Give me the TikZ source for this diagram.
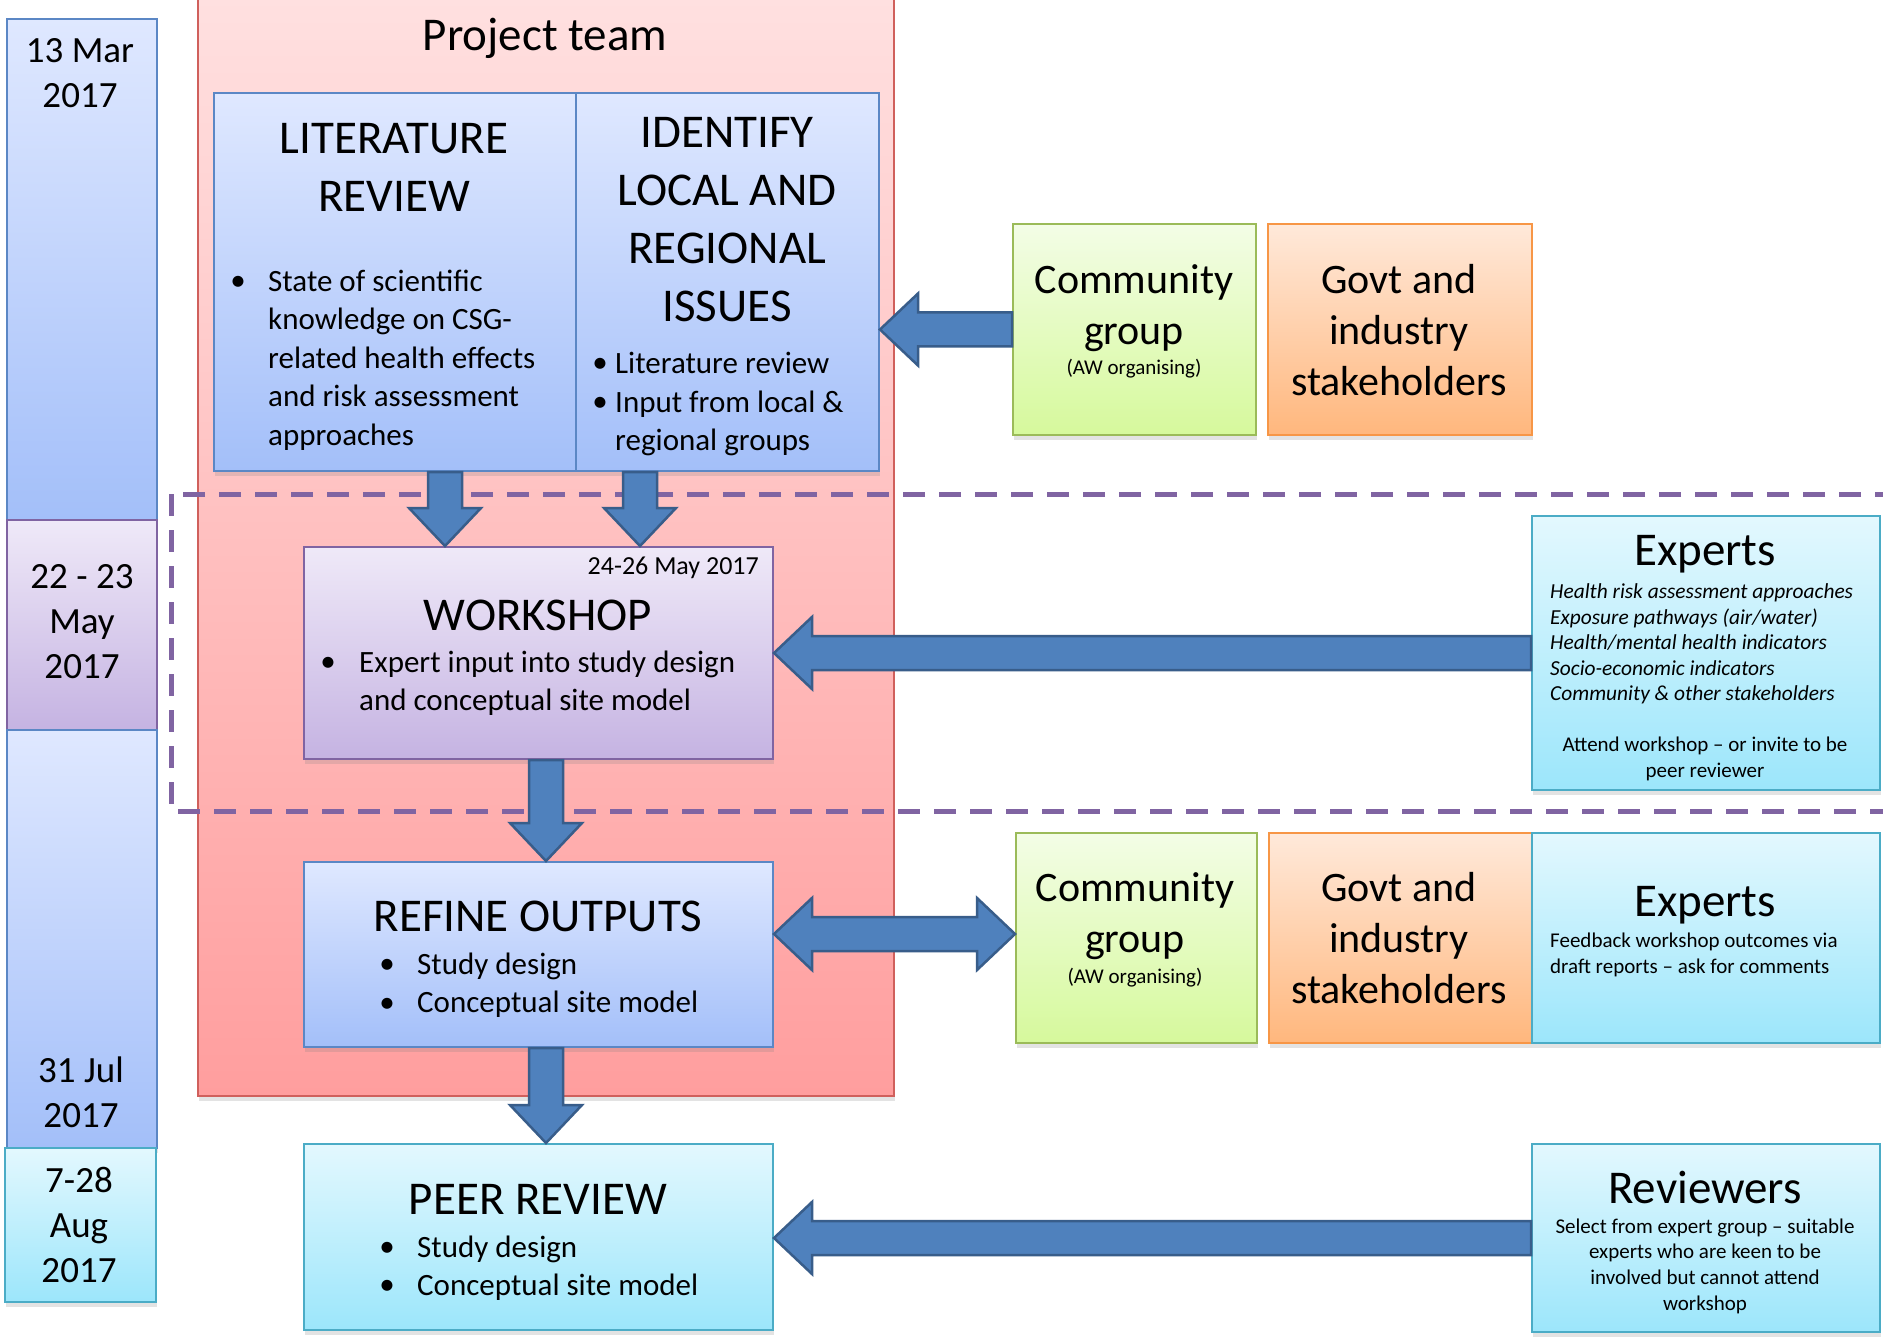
\documentclass[tikz,border=0pt]{standalone}
\usepackage{fontspec}
\setmainfont{Carlito}
\usetikzlibrary{calc,shadows}
\definecolor{blueT}{HTML}{DFE8FF}
\definecolor{blueB}{HTML}{A3BFF9}
\definecolor{blueD}{HTML}{5B87C5}
\definecolor{redT}{HTML}{FFE0E0}
\definecolor{redB}{HTML}{FF9E9E}
\definecolor{redD}{HTML}{D0605C}
\definecolor{purT}{HTML}{EFE9F8}
\definecolor{purB}{HTML}{C5B3E2}
\definecolor{purD}{HTML}{8064A2}
\definecolor{cyaT}{HTML}{E3F8FE}
\definecolor{cyaB}{HTML}{9CE6FB}
\definecolor{cyaD}{HTML}{4BACC6}
\definecolor{grnT}{HTML}{F3FDE6}
\definecolor{grnB}{HTML}{D6F99C}
\definecolor{grnD}{HTML}{9BBB59}
\definecolor{orgT}{HTML}{FFE9DA}
\definecolor{orgB}{HTML}{FFB77D}
\definecolor{orgD}{HTML}{F79646}
\definecolor{arrF}{HTML}{4F81BD}
\definecolor{arrD}{HTML}{385D8A}
\definecolor{dashC}{HTML}{8064A2}
\newcommand\fHead{\fontsize{47}{58}\selectfont}
\newcommand\fBody{\fontsize{31}{38.5}\selectfont}
\newcommand\fDate{\fontsize{37}{45}\selectfont}
\newcommand\fComm{\fontsize{42}{51}\selectfont}
\newcommand\fSmall{\fontsize{21}{25.6}\selectfont}
\newcommand\fItal{\fontsize{21.4}{25.6}\selectfont}
\newcommand\fWdate{\fontsize{26}{31}\selectfont}
\tikzset{
  box/.style={line width=2pt, anchor=north west, inner sep=0pt,
    drop shadow={shadow xshift=1pt, shadow yshift=-5pt, opacity=0.22}},
  bluebox/.style={box, draw=blueD, top color=blueT, bottom color=blueB},
  redbox/.style={box, line width=1.5pt, draw=redD, top color=redT, bottom color=redB},
  purbox/.style={box, draw=purD, top color=purT, bottom color=purB},
  cyabox/.style={box, draw=cyaD, top color=cyaT, bottom color=cyaB},
  grnbox/.style={box, draw=grnD, top color=grnT, bottom color=grnB},
  orgbox/.style={box, draw=orgD, top color=orgT, bottom color=orgB},
  barrow/.style={fill=arrF, draw=arrD, line width=2.5pt, line join=miter},
  dashbox/.style={draw=dashC, line width=5pt, dash pattern=on 22pt off 14pt},
  txt/.style={inner sep=0pt, align=center},
  ltxt/.style={inner sep=0pt, align=left, anchor=west},
  bul/.style={inner sep=0pt, font=\fBody},
}
\newcommand\varrow[2]{%
  \draw[barrow] let \p1=(#1), \p2=(#2) in
  (\x1-17pt,\y1) -- (\x1+17pt,\y1) -- (\x1+17pt,\y2+38pt) -- (\x1+36pt,\y2+38pt)
  -- (\x1,\y2) -- (\x1-36pt,\y2+38pt) -- (\x1-17pt,\y2+38pt) -- cycle;}
\newcommand\larrow[2]{%
  \draw[barrow] let \p1=(#1), \p2=(#2) in
  (\x1,\y1+17pt) -- (\x2+38pt,\y1+17pt) -- (\x2+38pt,\y1+36pt) -- (\x2,\y1)
  -- (\x2+38pt,\y1-36pt) -- (\x2+38pt,\y1-17pt) -- (\x1,\y1-17pt) -- cycle;}
\newcommand\dblarrow[2]{%
  \draw[barrow] let \p1=(#1), \p2=(#2) in
  (\x1,\y2) -- (\x1+38pt,\y2+36pt) -- (\x1+38pt,\y2+17pt) -- (\x2-38pt,\y2+17pt)
  -- (\x2-38pt,\y2+36pt) -- (\x2,\y2) -- (\x2-38pt,\y2-36pt) -- (\x2-38pt,\y2-17pt)
  -- (\x1+38pt,\y2-17pt) -- (\x1+38pt,\y2-36pt) -- cycle;}
\begin{document}
\begin{tikzpicture}[x=1pt,y=-1pt]
\useasboundingbox[fill=white] (0,0) rectangle (1883,1340);
% project team
\node[redbox, minimum width=696pt, minimum height=1098pt] (team) at (197,-3) {};
\node[txt, font=\fHead] (teamt) at (545,38) {Project team};
% dashed region
\draw[dashbox] (171,494) rectangle (1905,811);
% date column
\node[bluebox, minimum width=150pt, minimum height=501pt] (d1) at (6,18) {};
\node[purbox, minimum width=150pt, minimum height=210pt] (d2) at (6,519) {};
\node[bluebox, minimum width=150pt, minimum height=418pt] (d3) at (6,729) {};
\node[cyabox, minimum width=151pt, minimum height=154pt] (d4) at (4,1147) {};
\node[txt, font=\fDate] (d1t) at (80,73) {13 Mar\\2017};
\node[txt, font=\fDate] (d2t) at (82,622) {22 - 23\\May\\2017};
\node[txt, font=\fDate] (d3t) at (81,1092) {31 Jul\\2017};
\node[txt, font=\fDate] (d4t) at (79,1225) {7-28\\Aug\\2017};
% main boxes
\node[bluebox, minimum width=362pt, minimum height=378pt] (lit) at (213,92) {};
\node[bluebox, minimum width=303pt, minimum height=378pt] (ident) at (575,92) {};
\node[purbox, minimum width=469pt, minimum height=212pt] (work) at (303,546) {};
\node[bluebox, minimum width=469pt, minimum height=185pt] (refine) at (303,861) {};
\node[cyabox, minimum width=469pt, minimum height=186pt] (peer) at (303,1143) {};
% right boxes
\node[grnbox, minimum width=243pt, minimum height=211pt] (comm1) at (1012,223) {};
\node[orgbox, minimum width=264pt, minimum height=211pt] (govt1) at (1267,223) {};
\node[cyabox, minimum width=348pt, minimum height=274pt] (exp1) at (1531,515) {};
\node[grnbox, minimum width=241pt, minimum height=210pt] (comm2) at (1015,832) {};
\node[orgbox, minimum width=263pt, minimum height=210pt] (govt2) at (1268,832) {};
\node[cyabox, minimum width=348pt, minimum height=210pt] (exp2) at (1531,832) {};
\node[cyabox, minimum width=348pt, minimum height=188pt] (rev) at (1531,1143) {};
% arrows
\varrow{[xshift=50pt]lit.south}{work.north}
\varrow{[xshift=-87.5pt]ident.south}{work.north}
\varrow{[xshift=7.5pt]work.south}{refine.north}
\varrow{[xshift=7.5pt]refine.south}{peer.north}
\larrow{comm1.west}{ident.east}
\larrow{exp1.west}{work.east}
\larrow{rev.west}{peer.east}
\dblarrow{refine.east}{[yshift=4pt]comm2.west}
% literature review text
\node[txt, font=\fHead] (litt) at (394,167) {LITERATURE\\REVIEW};
\node[bul] (litb) at (238,283) {•};
\node[ltxt, font=\fBody] (litx) at (268,360) {State of scientific\\knowledge on CSG-\\related health effects\\and risk assessment\\approaches};
% identify text
\node[txt, font=\fHead] (identt) at (727,220) {IDENTIFY\\LOCAL AND\\REGIONAL\\ISSUES};
\node[bul] (identb1) at (600,365) {•};
\node[bul] (identb2) at (600,404) {•};
\node[ltxt, font=\fBody] (identx) at (615,404) {Literature review\\Input from local \&\\regional groups};
% workshop text
\node[inner sep=0pt, anchor=east, font=\fWdate] (workd) at (759,568) {24-26 May 2017};
\node[txt, font=\fHead] (workt) at (538,615) {WORKSHOP};
\node[bul] (workb) at (328,664) {•};
\node[ltxt, font=\fBody] (workx) at (359,683) {Expert input into study design\\and conceptual site model};
% refine text
\node[txt, font=\fHead] (refinet) at (538,916) {REFINE OUTPUTS};
\node[bul] (refb1) at (387,966) {•};
\node[bul] (refb2) at (387,1005) {•};
\node[ltxt, font=\fBody] (refx) at (417,985) {Study design\\Conceptual site model};
% peer text
\node[txt, font=\fHead] (peert) at (538,1199) {PEER REVIEW};
\node[bul] (peerb1) at (387,1249) {•};
\node[bul] (peerb2) at (387,1287) {•};
\node[ltxt, font=\fBody] (peerx) at (417,1268) {Study design\\Conceptual site model};
% community / govt 1
\node[txt, font=\fComm] (comm1t) at (1134,308) {Community\\group};
\node[txt, font=\fSmall] (comm1s) at (1134,369) {(AW organising)};
\node[txt, font=\fComm] (govt1t) at (1399,330) {Govt and\\industry\\stakeholders};
% experts 1
\node[txt, font=\fHead] (exp1t) at (1705,554) {Experts};
\node[ltxt, font=\fItal\itshape] (exp1x) at (1550,644) {Health risk assessment approaches\\Exposure pathways (air/water)\\Health/mental health indicators\\Socio-economic indicators\\Community \& other stakeholders};
\node[txt, font=\fSmall] (exp1y) at (1705,759) {Attend workshop – or invite to be\\peer reviewer};
% community / govt 2
\node[txt, font=\fComm] (comm2t) at (1135,916) {Community\\group};
\node[txt, font=\fSmall] (comm2s) at (1135,978) {(AW organising)};
\node[txt, font=\fComm] (govt2t) at (1399,938) {Govt and\\industry\\stakeholders};
% experts 2
\node[txt, font=\fHead] (exp2t) at (1705,905) {Experts};
\node[ltxt, font=\fSmall] (exp2x) at (1550,955) {Feedback workshop outcomes via\\draft reports – ask for comments};
% reviewers
\node[txt, font=\fHead] (revt) at (1705,1187) {Reviewers};
\node[txt, font=\fSmall] (revx) at (1705,1266) {Select from expert group – suitable\\experts who are keen to be\\involved but cannot attend\\workshop};
\end{tikzpicture}
\end{document}
